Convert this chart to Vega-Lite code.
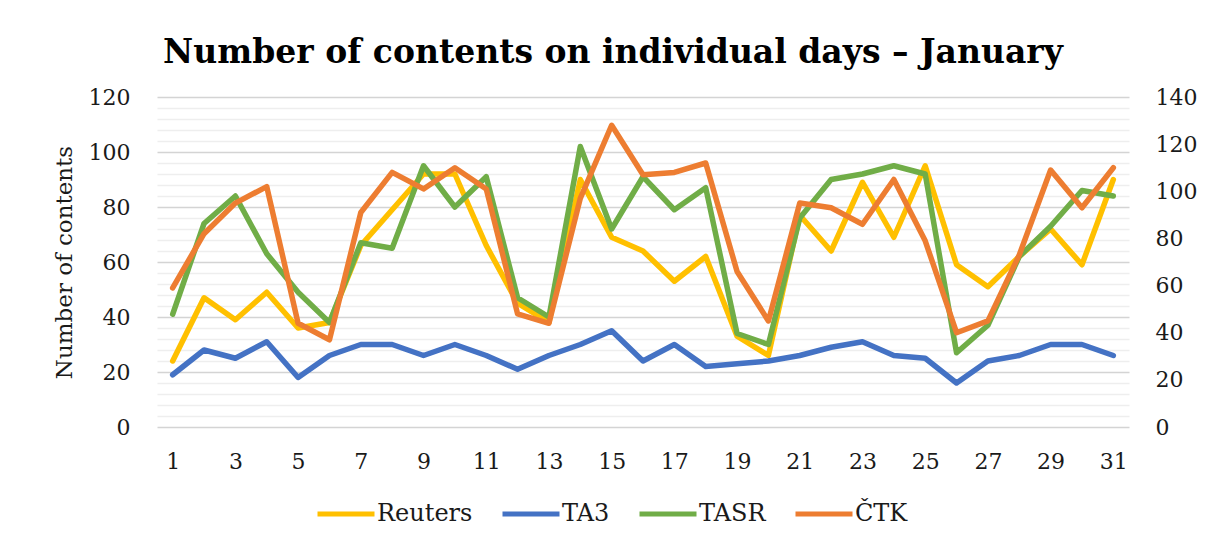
{
  "$schema": "https://vega.github.io/schema/vega-lite/v6.json",
  "autosize": "none",
  "width": 972,
  "height": 330,
  "padding": {"left": 157, "top": 97, "right": 77, "bottom": 112},
  "background": "white",
  "title": {
    "text": "Number of contents on individual days – January",
    "font": "DejaVu Serif",
    "fontSize": 33,
    "fontWeight": "bold",
    "color": "#000000",
    "anchor": "middle",
    "dx": -30,
    "offset": 16
  },
  "config": {
    "view": {"stroke": null},
    "font": "DejaVu Serif"
  },
  "data": {
    "values": [
      {"day": 1, "series": "Reuters", "value": 24}, {"day": 2, "series": "Reuters", "value": 47}, {"day": 3, "series": "Reuters", "value": 39}, {"day": 4, "series": "Reuters", "value": 49}, {"day": 5, "series": "Reuters", "value": 36}, {"day": 6, "series": "Reuters", "value": 38}, {"day": 7, "series": "Reuters", "value": 66}, {"day": 8, "series": "Reuters", "value": 79}, {"day": 9, "series": "Reuters", "value": 92}, {"day": 10, "series": "Reuters", "value": 92}, {"day": 11, "series": "Reuters", "value": 66}, {"day": 12, "series": "Reuters", "value": 45}, {"day": 13, "series": "Reuters", "value": 38}, {"day": 14, "series": "Reuters", "value": 90}, {"day": 15, "series": "Reuters", "value": 69}, {"day": 16, "series": "Reuters", "value": 64}, {"day": 17, "series": "Reuters", "value": 53}, {"day": 18, "series": "Reuters", "value": 62}, {"day": 19, "series": "Reuters", "value": 33}, {"day": 20, "series": "Reuters", "value": 26}, {"day": 21, "series": "Reuters", "value": 77}, {"day": 22, "series": "Reuters", "value": 64}, {"day": 23, "series": "Reuters", "value": 89}, {"day": 24, "series": "Reuters", "value": 69}, {"day": 25, "series": "Reuters", "value": 95}, {"day": 26, "series": "Reuters", "value": 59}, {"day": 27, "series": "Reuters", "value": 51}, {"day": 28, "series": "Reuters", "value": 62}, {"day": 29, "series": "Reuters", "value": 72}, {"day": 30, "series": "Reuters", "value": 59}, {"day": 31, "series": "Reuters", "value": 90},
      {"day": 1, "series": "TA3", "value": 19}, {"day": 2, "series": "TA3", "value": 28}, {"day": 3, "series": "TA3", "value": 25}, {"day": 4, "series": "TA3", "value": 31}, {"day": 5, "series": "TA3", "value": 18}, {"day": 6, "series": "TA3", "value": 26}, {"day": 7, "series": "TA3", "value": 30}, {"day": 8, "series": "TA3", "value": 30}, {"day": 9, "series": "TA3", "value": 26}, {"day": 10, "series": "TA3", "value": 30}, {"day": 11, "series": "TA3", "value": 26}, {"day": 12, "series": "TA3", "value": 21}, {"day": 13, "series": "TA3", "value": 26}, {"day": 14, "series": "TA3", "value": 30}, {"day": 15, "series": "TA3", "value": 35}, {"day": 16, "series": "TA3", "value": 24}, {"day": 17, "series": "TA3", "value": 30}, {"day": 18, "series": "TA3", "value": 22}, {"day": 19, "series": "TA3", "value": 23}, {"day": 20, "series": "TA3", "value": 24}, {"day": 21, "series": "TA3", "value": 26}, {"day": 22, "series": "TA3", "value": 29}, {"day": 23, "series": "TA3", "value": 31}, {"day": 24, "series": "TA3", "value": 26}, {"day": 25, "series": "TA3", "value": 25}, {"day": 26, "series": "TA3", "value": 16}, {"day": 27, "series": "TA3", "value": 24}, {"day": 28, "series": "TA3", "value": 26}, {"day": 29, "series": "TA3", "value": 30}, {"day": 30, "series": "TA3", "value": 30}, {"day": 31, "series": "TA3", "value": 26},
      {"day": 1, "series": "TASR", "value": 41}, {"day": 2, "series": "TASR", "value": 74}, {"day": 3, "series": "TASR", "value": 84}, {"day": 4, "series": "TASR", "value": 63}, {"day": 5, "series": "TASR", "value": 49}, {"day": 6, "series": "TASR", "value": 38}, {"day": 7, "series": "TASR", "value": 67}, {"day": 8, "series": "TASR", "value": 65}, {"day": 9, "series": "TASR", "value": 95}, {"day": 10, "series": "TASR", "value": 80}, {"day": 11, "series": "TASR", "value": 91}, {"day": 12, "series": "TASR", "value": 47}, {"day": 13, "series": "TASR", "value": 40}, {"day": 14, "series": "TASR", "value": 102}, {"day": 15, "series": "TASR", "value": 72}, {"day": 16, "series": "TASR", "value": 91}, {"day": 17, "series": "TASR", "value": 79}, {"day": 18, "series": "TASR", "value": 87}, {"day": 19, "series": "TASR", "value": 34}, {"day": 20, "series": "TASR", "value": 30}, {"day": 21, "series": "TASR", "value": 76}, {"day": 22, "series": "TASR", "value": 90}, {"day": 23, "series": "TASR", "value": 92}, {"day": 24, "series": "TASR", "value": 95}, {"day": 25, "series": "TASR", "value": 92}, {"day": 26, "series": "TASR", "value": 27}, {"day": 27, "series": "TASR", "value": 37}, {"day": 28, "series": "TASR", "value": 62}, {"day": 29, "series": "TASR", "value": 73}, {"day": 30, "series": "TASR", "value": 86}, {"day": 31, "series": "TASR", "value": 84},
      {"day": 1, "series": "ČTK", "value": 59}, {"day": 2, "series": "ČTK", "value": 82}, {"day": 3, "series": "ČTK", "value": 95}, {"day": 4, "series": "ČTK", "value": 102}, {"day": 5, "series": "ČTK", "value": 44}, {"day": 6, "series": "ČTK", "value": 37}, {"day": 7, "series": "ČTK", "value": 91}, {"day": 8, "series": "ČTK", "value": 108}, {"day": 9, "series": "ČTK", "value": 101}, {"day": 10, "series": "ČTK", "value": 110}, {"day": 11, "series": "ČTK", "value": 101}, {"day": 12, "series": "ČTK", "value": 48}, {"day": 13, "series": "ČTK", "value": 44}, {"day": 14, "series": "ČTK", "value": 97}, {"day": 15, "series": "ČTK", "value": 128}, {"day": 16, "series": "ČTK", "value": 107}, {"day": 17, "series": "ČTK", "value": 108}, {"day": 18, "series": "ČTK", "value": 112}, {"day": 19, "series": "ČTK", "value": 66}, {"day": 20, "series": "ČTK", "value": 45}, {"day": 21, "series": "ČTK", "value": 95}, {"day": 22, "series": "ČTK", "value": 93}, {"day": 23, "series": "ČTK", "value": 86}, {"day": 24, "series": "ČTK", "value": 105}, {"day": 25, "series": "ČTK", "value": 79}, {"day": 26, "series": "ČTK", "value": 40}, {"day": 27, "series": "ČTK", "value": 45}, {"day": 28, "series": "ČTK", "value": 73}, {"day": 29, "series": "ČTK", "value": 109}, {"day": 30, "series": "ČTK", "value": 93}, {"day": 31, "series": "ČTK", "value": 110}
    ]
  },
  "encoding": {
    "x": {
      "field": "day",
      "type": "ordinal",
      "scale": {"type": "point", "padding": 0.5},
      "axis": {
        "title": null,
        "values": [1, 3, 5, 7, 9, 11, 13, 15, 17, 19, 21, 23, 25, 27, 29, 31],
        "labelAngle": 0,
        "labelFont": "DejaVu Serif",
        "labelFontSize": 22,
        "labelColor": "#1a1a1a",
        "labelPadding": 24,
        "ticks": false,
        "domain": false,
        "grid": false
      }
    },
    "color": {
      "field": "series",
      "type": "nominal",
      "scale": {
        "domain": ["Reuters", "TA3", "TASR", "ČTK"],
        "range": ["#FFC000", "#4472C4", "#70AD47", "#ED7D31"]
      },
      "legend": {
        "title": null,
        "orient": "none",
        "legendX": 158,
        "legendY": 386,
        "direction": "horizontal",
        "symbolType": "stroke",
        "symbolSize": 3249,
        "symbolStrokeWidth": 5,
        "labelFont": "DejaVu Serif",
        "labelFontSize": 24,
        "labelColor": "#1a1a1a",
        "labelOffset": 0,
        "columnPadding": 19
      }
    }
  },
  "layer": [
    {
      "transform": [{"filter": "datum.series !== 'ČTK'"}],
      "mark": {"type": "line", "strokeWidth": 5.5, "strokeJoin": "round", "strokeCap": "round"},
      "encoding": {
        "y": {
          "field": "value",
          "type": "quantitative",
          "scale": {"domain": [0, 120], "nice": false, "zero": true},
          "axis": {
            "orient": "left",
            "title": "Number of contents",
            "titleFont": "DejaVu Serif",
            "titleFontSize": 23,
            "titleFontWeight": "normal",
            "titleColor": "#1a1a1a",
            "titlePadding": 12,
            "values": [0, 4, 8, 12, 16, 20, 24, 28, 32, 36, 40, 44, 48, 52, 56, 60, 64, 68, 72, 76, 80, 84, 88, 92, 96, 100, 104, 108, 112, 116, 120],
            "labelExpr": "datum.value % 20 === 0 ? datum.label : ''",
            "labelFont": "DejaVu Serif",
            "labelFontSize": 22,
            "labelColor": "#1a1a1a",
            "labelPadding": 27,
            "ticks": false,
            "domain": false,
            "grid": true,
            "gridWidth": 1.5,
            "gridColor": {"condition": {"test": "datum.value % 20 === 0", "value": "#d4d4d4"}, "value": "#eeeeee"}
          }
        }
      }
    },
    {
      "transform": [{"filter": "datum.series === 'ČTK'"}],
      "mark": {"type": "line", "strokeWidth": 5.5, "strokeJoin": "round", "strokeCap": "round"},
      "encoding": {
        "y": {
          "field": "value",
          "type": "quantitative",
          "scale": {"domain": [0, 140], "nice": false, "zero": true},
          "axis": {
            "orient": "right",
            "title": null,
            "values": [0, 20, 40, 60, 80, 100, 120, 140],
            "labelFont": "DejaVu Serif",
            "labelFontSize": 22,
            "labelColor": "#1a1a1a",
            "labelPadding": 26,
            "ticks": false,
            "domain": false,
            "grid": false
          }
        }
      }
    }
  ],
  "resolve": {"scale": {"y": "independent"}}
}
